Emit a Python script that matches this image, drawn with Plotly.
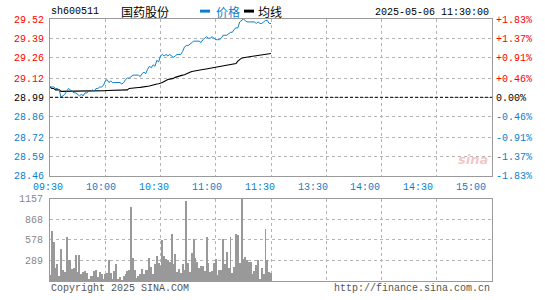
import plotly.graph_objects as go

# ---------------- data ----------------
symbol = "sh600511"
stock_name = "国药股份"
timestamp = "2025-05-06 11:30:00"
prev_close = 28.99
price_ticks = [28.46, 28.59, 28.72, 28.86, 28.99, 29.12, 29.26, 29.39, 29.52]
price_tick_labels = ["28.46", "28.59", "28.72", "28.86", "28.99", "29.12", "29.26", "29.39", "29.52"]
pct_labels = ["-1.83%", "-1.37%", "-0.91%", "-0.46%", "0.00%", "+0.46%", "+0.91%", "+1.37%", "+1.83%"]
time_labels = ["09:30", "10:00", "10:30", "11:00", "11:30", "13:30", "14:00", "14:30", "15:00"]
time_ticks = [0, 30, 60, 90, 120, 150, 180, 210, 240]
vol_ticks = [289, 578, 868, 1157]
vol_tick_labels = ["289", "578", "868", "1157"]
legend_labels = ["价格", "均线"]

price = [
    29.06, 29.06, 29.06, 29.05, 29.05, 29.04, 28.99, 29.00, 29.01, 29.03,
    29.05, 29.04, 29.03, 29.02, 29.02, 29.01, 29.00, 29.01, 29.00, 29.02,
    29.02, 29.03, 29.03, 29.04, 29.03, 29.05, 29.05, 29.06, 29.06, 29.07,
    29.10, 29.11, 29.09, 29.10, 29.09, 29.09, 29.09, 29.09, 29.09, 29.08,
    29.09, 29.11, 29.12, 29.12, 29.13, 29.14, 29.14, 29.14, 29.14, 29.13,
    29.15, 29.16, 29.15, 29.18, 29.20, 29.19, 29.21, 29.20, 29.24, 29.23,
    29.27, 29.28, 29.27, 29.28, 29.27, 29.28, 29.27, 29.26, 29.27, 29.28,
    29.28, 29.28, 29.30, 29.33, 29.34, 29.34, 29.35, 29.36, 29.37, 29.37,
    29.37, 29.37, 29.36, 29.38, 29.39, 29.40, 29.39, 29.39, 29.40, 29.39,
    29.38, 29.38, 29.38, 29.39, 29.41, 29.41, 29.41, 29.42, 29.43, 29.43,
    29.45, 29.46, 29.46, 29.50, 29.51, 29.52, 29.51, 29.50, 29.50, 29.50,
    29.50, 29.50, 29.49, 29.50, 29.49, 29.49, 29.50, 29.51, 29.51, 29.49,
    29.49,
]

avg = [
    29.060, 29.050, 29.050, 29.040, 29.040, 29.040, 29.030, 29.030, 29.030, 29.030,
    29.030, 29.030, 29.030, 29.030, 29.030, 29.030, 29.030, 29.030, 29.030, 29.030,
    29.030, 29.030, 29.030, 29.030, 29.030, 29.030, 29.030, 29.030, 29.030, 29.033,
    29.035, 29.036, 29.036, 29.036, 29.036, 29.037, 29.037, 29.037, 29.037, 29.037,
    29.037, 29.038, 29.040, 29.050, 29.052, 29.053, 29.054, 29.055, 29.056, 29.057,
    29.058, 29.059, 29.060, 29.062, 29.066, 29.070, 29.075, 29.078, 29.080, 29.082,
    29.085, 29.090, 29.097, 29.105, 29.110, 29.113, 29.115, 29.118, 29.125, 29.130,
    29.135, 29.138, 29.140, 29.143, 29.147, 29.152, 29.160, 29.165, 29.168, 29.170,
    29.172, 29.174, 29.176, 29.178, 29.180, 29.182, 29.185, 29.187, 29.190, 29.192,
    29.194, 29.196, 29.198, 29.200, 29.202, 29.204, 29.206, 29.208, 29.210, 29.212,
    29.214, 29.218, 29.235, 29.248, 29.255, 29.258, 29.261, 29.263, 29.265, 29.267,
    29.268, 29.270, 29.272, 29.273, 29.275, 29.276, 29.278, 29.280, 29.282, 29.284,
    29.286,
]

volume = [
    92, 711, 555, 184, 239, 73, 459, 156, 133, 624,
    294, 294, 170, 184, 363, 133, 363, 101, 124, 147,
    115, 37, 73, 73, 147, 165, 55, 133, 101, 32,
    101, 115, 298, 115, 37, 138, 239, 37, 55, 23,
    78, 101, 138, 156, 1051, 321, 156, 41, 73, 101,
    170, 101, 156, 156, 321, 197, 101, 239, 349, 252,
    211, 583, 349, 308, 294, 266, 666, 239, 390, 128,
    170, 115, 239, 156, 1134, 252, 128, 404, 601, 321,
    266, 184, 216, 216, 147, 624, 252, 128, 147, 252,
    308, 87, 156, 156, 597, 239, 418, 184, 624, 115,
    197, 666, 652, 252, 1157, 308, 335, 294, 266, 266,
    101, 142, 225, 294, 32, 184, 101, 739, 294, 128,
    115,
]

minutes = list(range(len(price)))

# ---------------- styles ----------------
W, H = 545, 300
ML, MR, MT, MB = 50, 53, 19, 15
PW, PH = W - ML - MR, H - MT - MB
BLUE = "#0a7fcc"
RED = "#ff0000"
GRAY = "#9a9a9a"
GRID = "#b4b4b4"
MONO = "Liberation Mono, DejaVu Sans Mono, monospace"


def px_x(x):
    return (x - ML) / PW


def px_y(y):
    return (H - MB - y) / PH


price_dom = [px_y(178), 1.0]
vol_dom = [0.0, px_y(201.5)]


def colored(lbl, val):
    if val > prev_close + 1e-9:
        c = RED
    elif val < prev_close - 1e-9:
        c = BLUE
    else:
        c = "#000000"
    return f"<span style='color:{c}'>{lbl}</span>"


left_text = [colored(l, v) for l, v in zip(price_tick_labels, price_ticks)]
right_text = [colored(l, v) for l, v in zip(pct_labels, price_ticks)]

fig = go.Figure()

fig.add_trace(go.Scatter(x=minutes, y=avg, mode="lines", line=dict(color="#000000", width=1.1),
                         xaxis="x", yaxis="y", hoverinfo="skip", showlegend=False))
fig.add_trace(go.Scatter(x=minutes, y=price, mode="lines", line=dict(color=BLUE, width=1),
                         xaxis="x", yaxis="y", hoverinfo="skip", showlegend=False))
fig.add_trace(go.Scatter(x=minutes, y=price, mode="lines", line=dict(color="rgba(0,0,0,0)", width=0),
                         xaxis="x", yaxis="y3", hoverinfo="skip", showlegend=False))
fig.add_trace(go.Bar(x=minutes, y=volume, width=0.52, marker=dict(color="#999999", line=dict(width=0)),
                     xaxis="x2", yaxis="y2", hoverinfo="skip", showlegend=False))

axis_common = dict(showline=True, linecolor=GRAY, linewidth=1, mirror=True,
                   showgrid=True, gridcolor=GRID, griddash="dot", gridwidth=1,
                   zeroline=False, ticks="", fixedrange=True)

fig.update_layout(
    width=W, height=H,
    margin=dict(l=ML, r=MR, t=MT, b=MB),
    paper_bgcolor="white", plot_bgcolor="white",
    showlegend=False,
    bargap=0,
    xaxis=dict(domain=[0, 1], range=[0, 240], tickvals=time_ticks, showticklabels=False,
               anchor="y", **axis_common),
    yaxis=dict(domain=price_dom, range=[price_ticks[0], price_ticks[-1]], tickvals=price_ticks,
               ticktext=left_text, tickfont=dict(family=MONO, size=10), ticklabelstandoff=3,
               anchor="x", **axis_common),
    yaxis3=dict(overlaying="y", side="right", range=[price_ticks[0], price_ticks[-1]],
                tickvals=price_ticks, ticktext=right_text, tickfont=dict(family=MONO, size=10),
                ticklabelstandoff=3, showgrid=False, showline=False, zeroline=False, ticks="",
                anchor="x", fixedrange=True),
    xaxis2=dict(domain=[0, 1], range=[0, 240], tickvals=time_ticks, showticklabels=False,
                anchor="y2", **axis_common),
    yaxis2=dict(domain=vol_dom, range=[0, vol_ticks[-1]], tickvals=vol_ticks, ticktext=vol_tick_labels,
                tickfont=dict(family=MONO, size=10, color="#888888"), ticklabelstandoff=4,
                anchor="x2", **axis_common),
)

# previous close reference line
fig.add_shape(type="line", xref="x domain", yref="y", x0=0, x1=1, y0=prev_close, y1=prev_close,
              line=dict(color="#000000", width=1, dash="3px,2px"))

ann = []
# time labels
for i, lbl in enumerate(time_labels):
    ann.append(dict(xref="paper", yref="paper", x=px_x(48 + i * 52.9), y=px_y(190),
                    text=lbl, showarrow=False, xanchor="center", yanchor="middle",
                    font=dict(family=MONO, size=10, color=BLUE)))
# header
ann.append(dict(xref="paper", yref="paper", x=px_x(49), y=px_y(11), text=symbol, showarrow=False,
                xanchor="left", yanchor="middle", font=dict(family=MONO, size=10, color="#000000")))
ann.append(dict(xref="paper", yref="paper", x=px_x(119), y=px_y(11), text=stock_name, showarrow=False,
                xanchor="left", yanchor="middle",
                font=dict(family="Noto Sans CJK SC", size=12, color="#000000")))
ann.append(dict(xref="paper", yref="paper", x=px_x(214), y=px_y(11), text=legend_labels[0], showarrow=False,
                xanchor="left", yanchor="middle",
                font=dict(family="Noto Sans CJK SC", size=12, color=BLUE)))
ann.append(dict(xref="paper", yref="paper", x=px_x(256), y=px_y(11), text=legend_labels[1], showarrow=False,
                xanchor="left", yanchor="middle",
                font=dict(family="Noto Sans CJK SC", size=12, color="#000000")))
ann.append(dict(xref="paper", yref="paper", x=px_x(491), y=px_y(12), text=timestamp, showarrow=False,
                xanchor="right", yanchor="middle", font=dict(family=MONO, size=10, color="#000000")))
# footer
ann.append(dict(xref="paper", yref="paper", x=px_x(49), y=px_y(293), text="Copyright 2025 SINA.COM",
                showarrow=False, xanchor="left", yanchor="middle",
                font=dict(family=MONO, size=10, color="#555555")))
ann.append(dict(xref="paper", yref="paper", x=px_x(492), y=px_y(293), text="http://finance.sina.com.cn",
                showarrow=False, xanchor="right", yanchor="middle",
                font=dict(family=MONO, size=10, color="#555555")))
# watermark
ann.append(dict(xref="paper", yref="paper", x=px_x(473), y=px_y(162), text="<b><i>sina</i></b>",
                showarrow=False, xanchor="center", yanchor="middle",
                font=dict(family="DejaVu Sans", size=13, color="rgba(215,90,90,0.35)")))
fig.update_layout(annotations=ann)

# legend swatches
fig.add_shape(type="rect", xref="paper", yref="paper", x0=px_x(200), x1=px_x(210),
              y0=px_y(12.5), y1=px_y(9.5), fillcolor=BLUE, line=dict(width=0))
fig.add_shape(type="rect", xref="paper", yref="paper", x0=px_x(244), x1=px_x(254),
              y0=px_y(12.5), y1=px_y(9.5), fillcolor="#000000", line=dict(width=0))

fig.write_html("out.html", config={"displayModeBar": False},
               post_script="document.body.style.margin='0px';document.body.style.overflow='hidden';")
